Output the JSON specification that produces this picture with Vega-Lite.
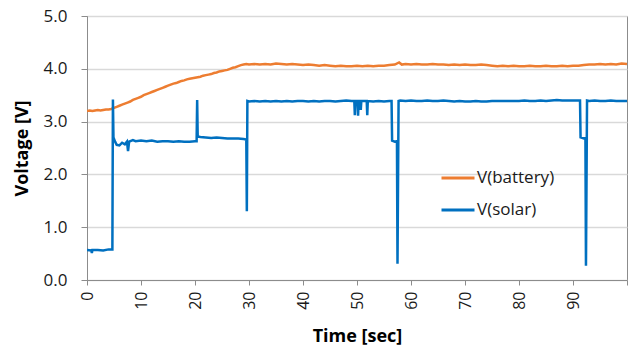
{
  "$schema": "https://vega.github.io/schema/vega-lite/v6.json",
  "width": 540,
  "height": 264,
  "autosize": "none",
  "padding": {"left": 87, "top": 16, "right": 2, "bottom": 74},
  "config": {
    "font": "Open Sans",
    "view": {"stroke": "#8c8c8c", "strokeWidth": 1},
    "axis": {"domainColor": "#8c8c8c", "tickColor": "#8c8c8c", "labelColor": "#1a1a1a", "titleColor": "#000000", "labelFont": "Open Sans", "titleFont": "Open Sans"}
  },
  "data": {
    "values": [
      {"s":"V(battery)","t":0,"v":3.20},{"s":"V(battery)","t":0.5,"v":3.21},{"s":"V(battery)","t":1,"v":3.20},{"s":"V(battery)","t":1.5,"v":3.21},{"s":"V(battery)","t":2,"v":3.22},{"s":"V(battery)","t":2.5,"v":3.21},{"s":"V(battery)","t":3,"v":3.22},{"s":"V(battery)","t":3.5,"v":3.23},{"s":"V(battery)","t":4,"v":3.23},{"s":"V(battery)","t":4.5,"v":3.24},
      {"s":"V(battery)","t":5,"v":3.26},{"s":"V(battery)","t":5.5,"v":3.28},{"s":"V(battery)","t":6,"v":3.30},{"s":"V(battery)","t":6.5,"v":3.32},{"s":"V(battery)","t":7,"v":3.34},{"s":"V(battery)","t":7.5,"v":3.36},{"s":"V(battery)","t":8,"v":3.38},{"s":"V(battery)","t":8.5,"v":3.41},{"s":"V(battery)","t":9,"v":3.43},{"s":"V(battery)","t":9.5,"v":3.45},
      {"s":"V(battery)","t":10,"v":3.47},{"s":"V(battery)","t":10.5,"v":3.50},{"s":"V(battery)","t":11,"v":3.52},{"s":"V(battery)","t":11.5,"v":3.54},{"s":"V(battery)","t":12,"v":3.56},{"s":"V(battery)","t":12.5,"v":3.58},{"s":"V(battery)","t":13,"v":3.60},{"s":"V(battery)","t":13.5,"v":3.62},{"s":"V(battery)","t":14,"v":3.64},{"s":"V(battery)","t":14.5,"v":3.66},
      {"s":"V(battery)","t":15,"v":3.68},{"s":"V(battery)","t":15.5,"v":3.70},{"s":"V(battery)","t":16,"v":3.72},{"s":"V(battery)","t":16.5,"v":3.73},{"s":"V(battery)","t":17,"v":3.75},{"s":"V(battery)","t":17.5,"v":3.77},{"s":"V(battery)","t":18,"v":3.78},{"s":"V(battery)","t":18.5,"v":3.80},{"s":"V(battery)","t":19,"v":3.81},{"s":"V(battery)","t":19.5,"v":3.82},
      {"s":"V(battery)","t":20,"v":3.83},{"s":"V(battery)","t":20.5,"v":3.84},{"s":"V(battery)","t":21,"v":3.85},{"s":"V(battery)","t":21.5,"v":3.87},{"s":"V(battery)","t":22,"v":3.88},{"s":"V(battery)","t":22.5,"v":3.89},{"s":"V(battery)","t":23,"v":3.90},{"s":"V(battery)","t":23.5,"v":3.92},{"s":"V(battery)","t":24,"v":3.93},{"s":"V(battery)","t":24.5,"v":3.95},
      {"s":"V(battery)","t":25,"v":3.96},{"s":"V(battery)","t":25.5,"v":3.97},{"s":"V(battery)","t":26,"v":3.98},{"s":"V(battery)","t":26.5,"v":4.00},{"s":"V(battery)","t":27,"v":4.02},{"s":"V(battery)","t":27.5,"v":4.03},{"s":"V(battery)","t":28,"v":4.05},{"s":"V(battery)","t":28.5,"v":4.07},{"s":"V(battery)","t":29,"v":4.08},{"s":"V(battery)","t":29.5,"v":4.09},
      {"s":"V(battery)","t":30,"v":4.08},{"s":"V(battery)","t":31,"v":4.09},{"s":"V(battery)","t":32,"v":4.08},{"s":"V(battery)","t":33,"v":4.09},{"s":"V(battery)","t":34,"v":4.08},{"s":"V(battery)","t":35,"v":4.10},{"s":"V(battery)","t":36,"v":4.09},{"s":"V(battery)","t":37,"v":4.08},{"s":"V(battery)","t":38,"v":4.09},{"s":"V(battery)","t":39,"v":4.08},
      {"s":"V(battery)","t":40,"v":4.07},{"s":"V(battery)","t":41,"v":4.08},{"s":"V(battery)","t":42,"v":4.07},{"s":"V(battery)","t":43,"v":4.06},{"s":"V(battery)","t":44,"v":4.07},{"s":"V(battery)","t":45,"v":4.06},{"s":"V(battery)","t":46,"v":4.05},{"s":"V(battery)","t":47,"v":4.06},{"s":"V(battery)","t":48,"v":4.05},{"s":"V(battery)","t":49,"v":4.05},
      {"s":"V(battery)","t":50,"v":4.06},{"s":"V(battery)","t":51,"v":4.05},{"s":"V(battery)","t":52,"v":4.06},{"s":"V(battery)","t":53,"v":4.05},{"s":"V(battery)","t":54,"v":4.06},{"s":"V(battery)","t":55,"v":4.06},{"s":"V(battery)","t":56,"v":4.07},{"s":"V(battery)","t":57,"v":4.08},{"s":"V(battery)","t":57.8,"v":4.12},{"s":"V(battery)","t":58.3,"v":4.08},
      {"s":"V(battery)","t":59,"v":4.09},{"s":"V(battery)","t":60,"v":4.08},{"s":"V(battery)","t":61,"v":4.09},{"s":"V(battery)","t":62,"v":4.08},{"s":"V(battery)","t":63,"v":4.08},{"s":"V(battery)","t":64,"v":4.09},{"s":"V(battery)","t":65,"v":4.08},{"s":"V(battery)","t":66,"v":4.08},{"s":"V(battery)","t":67,"v":4.07},{"s":"V(battery)","t":68,"v":4.08},
      {"s":"V(battery)","t":69,"v":4.07},{"s":"V(battery)","t":70,"v":4.08},{"s":"V(battery)","t":71,"v":4.07},{"s":"V(battery)","t":72,"v":4.07},{"s":"V(battery)","t":73,"v":4.08},{"s":"V(battery)","t":74,"v":4.07},{"s":"V(battery)","t":75,"v":4.06},{"s":"V(battery)","t":76,"v":4.05},{"s":"V(battery)","t":77,"v":4.06},{"s":"V(battery)","t":78,"v":4.05},
      {"s":"V(battery)","t":79,"v":4.06},{"s":"V(battery)","t":80,"v":4.05},{"s":"V(battery)","t":81,"v":4.05},{"s":"V(battery)","t":82,"v":4.06},{"s":"V(battery)","t":83,"v":4.05},{"s":"V(battery)","t":84,"v":4.05},{"s":"V(battery)","t":85,"v":4.06},{"s":"V(battery)","t":86,"v":4.05},{"s":"V(battery)","t":87,"v":4.05},{"s":"V(battery)","t":88,"v":4.06},
      {"s":"V(battery)","t":89,"v":4.05},{"s":"V(battery)","t":90,"v":4.06},{"s":"V(battery)","t":91,"v":4.06},{"s":"V(battery)","t":92,"v":4.07},{"s":"V(battery)","t":93,"v":4.08},{"s":"V(battery)","t":94,"v":4.08},{"s":"V(battery)","t":95,"v":4.09},{"s":"V(battery)","t":96,"v":4.08},{"s":"V(battery)","t":97,"v":4.09},{"s":"V(battery)","t":98,"v":4.08},{"s":"V(battery)","t":99,"v":4.10},{"s":"V(battery)","t":100,"v":4.09},

      {"s":"V(solar)","t":0,"v":0.57},{"s":"V(solar)","t":0.8,"v":0.56},{"s":"V(solar)","t":0.9,"v":0.51},{"s":"V(solar)","t":1.0,"v":0.57},{"s":"V(solar)","t":2,"v":0.57},{"s":"V(solar)","t":3,"v":0.56},{"s":"V(solar)","t":4,"v":0.58},{"s":"V(solar)","t":4.7,"v":0.58},
      {"s":"V(solar)","t":4.8,"v":3.42},{"s":"V(solar)","t":4.9,"v":2.70},{"s":"V(solar)","t":5.2,"v":2.62},{"s":"V(solar)","t":5.5,"v":2.56},{"s":"V(solar)","t":6,"v":2.55},{"s":"V(solar)","t":6.5,"v":2.60},{"s":"V(solar)","t":7,"v":2.57},{"s":"V(solar)","t":7.4,"v":2.62},{"s":"V(solar)","t":7.6,"v":2.44},{"s":"V(solar)","t":7.8,"v":2.62},
      {"s":"V(solar)","t":8.5,"v":2.65},{"s":"V(solar)","t":9,"v":2.63},{"s":"V(solar)","t":10,"v":2.64},{"s":"V(solar)","t":11,"v":2.63},{"s":"V(solar)","t":12,"v":2.64},{"s":"V(solar)","t":13,"v":2.62},{"s":"V(solar)","t":14,"v":2.63},{"s":"V(solar)","t":15,"v":2.63},{"s":"V(solar)","t":16,"v":2.62},{"s":"V(solar)","t":17,"v":2.63},{"s":"V(solar)","t":18,"v":2.62},{"s":"V(solar)","t":19,"v":2.62},{"s":"V(solar)","t":20,"v":2.63},{"s":"V(solar)","t":20.3,"v":2.63},
      {"s":"V(solar)","t":20.4,"v":3.41},{"s":"V(solar)","t":20.5,"v":2.72},{"s":"V(solar)","t":21,"v":2.71},{"s":"V(solar)","t":22,"v":2.70},{"s":"V(solar)","t":23,"v":2.69},{"s":"V(solar)","t":24,"v":2.70},{"s":"V(solar)","t":25,"v":2.69},{"s":"V(solar)","t":26,"v":2.68},{"s":"V(solar)","t":27,"v":2.68},{"s":"V(solar)","t":28,"v":2.68},{"s":"V(solar)","t":29,"v":2.67},{"s":"V(solar)","t":29.5,"v":2.66},
      {"s":"V(solar)","t":29.6,"v":1.30},{"s":"V(solar)","t":29.7,"v":3.39},{"s":"V(solar)","t":30,"v":3.38},{"s":"V(solar)","t":31,"v":3.39},{"s":"V(solar)","t":32,"v":3.38},{"s":"V(solar)","t":33,"v":3.39},{"s":"V(solar)","t":34,"v":3.38},{"s":"V(solar)","t":35,"v":3.39},{"s":"V(solar)","t":36,"v":3.38},{"s":"V(solar)","t":37,"v":3.39},{"s":"V(solar)","t":38,"v":3.38},{"s":"V(solar)","t":39,"v":3.39},
      {"s":"V(solar)","t":40,"v":3.39},{"s":"V(solar)","t":41,"v":3.38},{"s":"V(solar)","t":42,"v":3.39},{"s":"V(solar)","t":43,"v":3.38},{"s":"V(solar)","t":44,"v":3.39},{"s":"V(solar)","t":45,"v":3.39},{"s":"V(solar)","t":46,"v":3.38},{"s":"V(solar)","t":47,"v":3.39},{"s":"V(solar)","t":48,"v":3.40},{"s":"V(solar)","t":49,"v":3.39},
      {"s":"V(solar)","t":49.5,"v":3.39},{"s":"V(solar)","t":49.6,"v":3.12},{"s":"V(solar)","t":49.7,"v":3.39},{"s":"V(solar)","t":50.1,"v":3.39},{"s":"V(solar)","t":50.2,"v":3.11},{"s":"V(solar)","t":50.3,"v":3.39},{"s":"V(solar)","t":50.6,"v":3.39},{"s":"V(solar)","t":50.7,"v":3.22},{"s":"V(solar)","t":50.8,"v":3.39},{"s":"V(solar)","t":51.8,"v":3.39},{"s":"V(solar)","t":51.9,"v":3.12},{"s":"V(solar)","t":52.0,"v":3.39},
      {"s":"V(solar)","t":53,"v":3.38},{"s":"V(solar)","t":54,"v":3.39},{"s":"V(solar)","t":55,"v":3.38},{"s":"V(solar)","t":56,"v":3.39},{"s":"V(solar)","t":56.4,"v":3.39},{"s":"V(solar)","t":56.5,"v":2.64},{"s":"V(solar)","t":57.0,"v":2.62},{"s":"V(solar)","t":57.4,"v":2.63},{"s":"V(solar)","t":57.5,"v":0.31},{"s":"V(solar)","t":57.7,"v":3.39},
      {"s":"V(solar)","t":58,"v":3.40},{"s":"V(solar)","t":59,"v":3.39},{"s":"V(solar)","t":60,"v":3.40},{"s":"V(solar)","t":61,"v":3.39},{"s":"V(solar)","t":62,"v":3.39},{"s":"V(solar)","t":63,"v":3.40},{"s":"V(solar)","t":64,"v":3.39},{"s":"V(solar)","t":65,"v":3.39},{"s":"V(solar)","t":66,"v":3.40},{"s":"V(solar)","t":67,"v":3.39},{"s":"V(solar)","t":68,"v":3.38},{"s":"V(solar)","t":69,"v":3.39},
      {"s":"V(solar)","t":70,"v":3.38},{"s":"V(solar)","t":71,"v":3.38},{"s":"V(solar)","t":72,"v":3.39},{"s":"V(solar)","t":73,"v":3.38},{"s":"V(solar)","t":74,"v":3.38},{"s":"V(solar)","t":75,"v":3.39},{"s":"V(solar)","t":76,"v":3.39},{"s":"V(solar)","t":77,"v":3.39},{"s":"V(solar)","t":78,"v":3.39},{"s":"V(solar)","t":79,"v":3.39},
      {"s":"V(solar)","t":80,"v":3.39},{"s":"V(solar)","t":81,"v":3.40},{"s":"V(solar)","t":82,"v":3.39},{"s":"V(solar)","t":83,"v":3.39},{"s":"V(solar)","t":84,"v":3.40},{"s":"V(solar)","t":85,"v":3.39},{"s":"V(solar)","t":86,"v":3.40},{"s":"V(solar)","t":87,"v":3.41},{"s":"V(solar)","t":88,"v":3.40},{"s":"V(solar)","t":89,"v":3.40},{"s":"V(solar)","t":90,"v":3.40},{"s":"V(solar)","t":91,"v":3.40},{"s":"V(solar)","t":91.3,"v":3.40},
      {"s":"V(solar)","t":91.4,"v":2.70},{"s":"V(solar)","t":92.0,"v":2.68},{"s":"V(solar)","t":92.3,"v":2.69},{"s":"V(solar)","t":92.4,"v":0.27},{"s":"V(solar)","t":92.6,"v":3.40},{"s":"V(solar)","t":93,"v":3.39},{"s":"V(solar)","t":94,"v":3.40},{"s":"V(solar)","t":95,"v":3.39},{"s":"V(solar)","t":96,"v":3.39},{"s":"V(solar)","t":97,"v":3.40},{"s":"V(solar)","t":98,"v":3.39},{"s":"V(solar)","t":99,"v":3.39},{"s":"V(solar)","t":100,"v":3.39}
    ]
  },
  "mark": {"type": "line", "strokeWidth": 2.5, "clip": true},
  "encoding": {
    "x": {
      "field": "t", "type": "quantitative",
      "scale": {"domain": [0, 100], "nice": false, "zero": false},
      "axis": {
        "title": "Time [sec]", "titleFontSize": 18, "titleFontWeight": "bold", "titlePadding": 18,
        "values": [0, 10, 20, 30, 40, 50, 60, 70, 80, 90, 100],
        "labelExpr": "datum.value == 100 ? '' : datum.label",
        "labelAngle": -90, "labelFontSize": 16, "labelPadding": 6, "tickSize": 5, "grid": false
      }
    },
    "y": {
      "field": "v", "type": "quantitative",
      "scale": {"domain": [0, 5], "nice": false},
      "axis": {
        "title": "Voltage [V]", "titleFontSize": 18, "titleFontWeight": "bold", "titlePadding": 12,
        "values": [0, 1, 2, 3, 4, 5], "format": ".1f",
        "labelFontSize": 17, "labelPadding": 14, "tickSize": 6,
        "grid": true, "gridColor": "#d9d9d9", "gridWidth": 1.5
      }
    },
    "color": {
      "field": "s", "type": "nominal",
      "scale": {"domain": ["V(battery)", "V(solar)"], "range": ["#ED7D31", "#0070C0"]},
      "legend": {
        "title": null, "orient": "none", "legendX": 353, "legendY": 144,
        "symbolType": "stroke", "symbolSize": 1089, "symbolStrokeWidth": 3,
        "labelFontSize": 17, "labelColor": "#1a1a1a", "labelOffset": 1, "rowPadding": 6
      }
    }
  }
}
